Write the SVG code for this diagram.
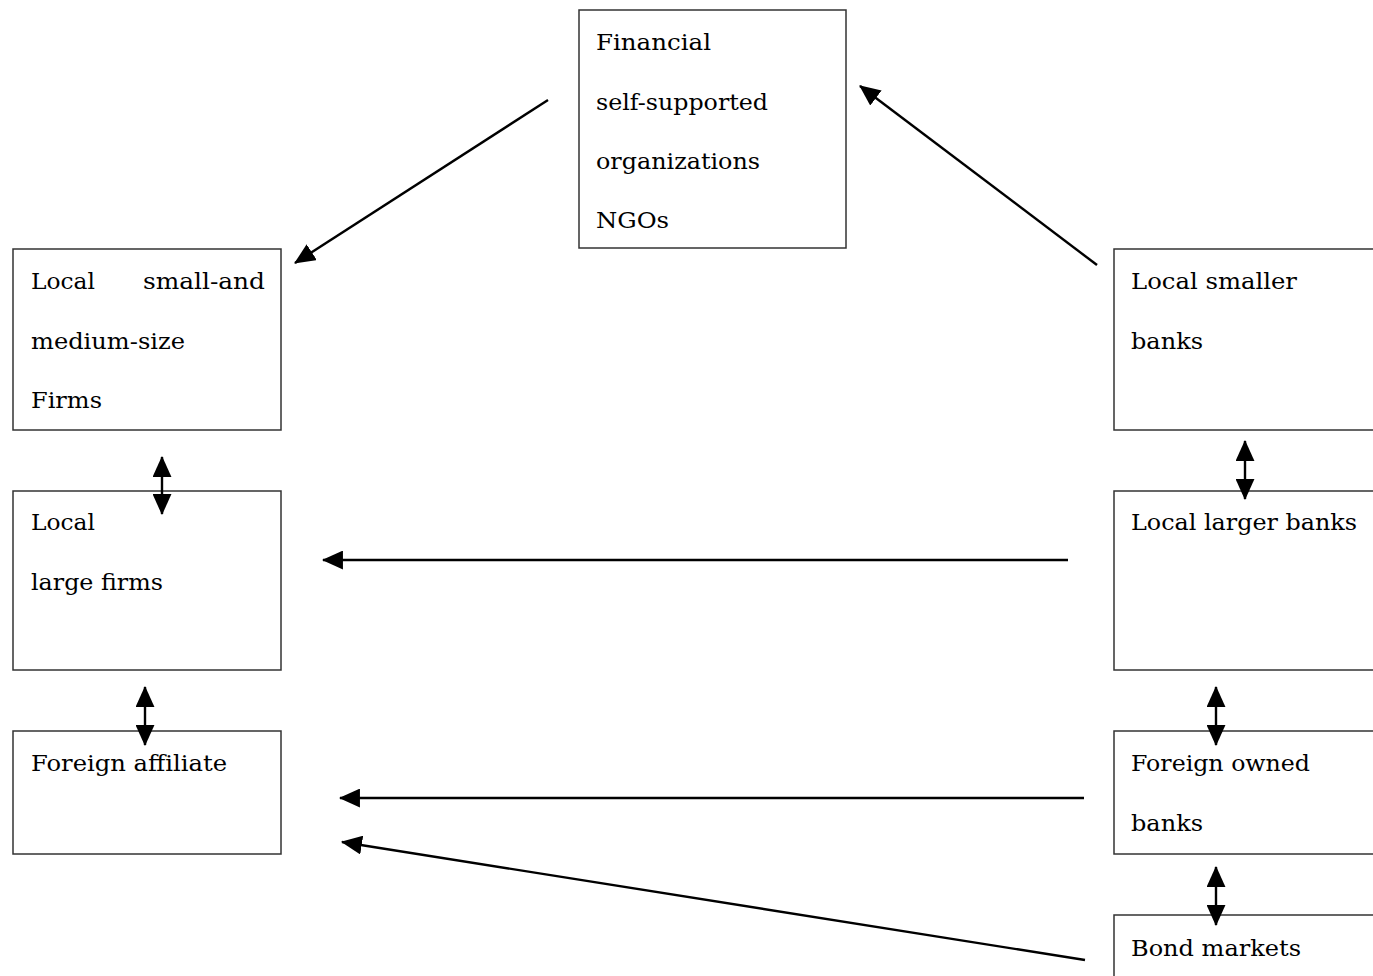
<svg xmlns="http://www.w3.org/2000/svg" width="1373" height="976" viewBox="0 0 1373 976">
<style>
.box{fill:#fff;stroke:#333;stroke-width:1.5}
.t{font-family:"DejaVu Serif","Liberation Serif",serif;font-size:23px;fill:#000}
.c{stroke:#000;stroke-width:2.4;fill:none}
</style>
<defs>
<marker id="ah" viewBox="0 0 20 18" refX="19" refY="9" markerWidth="21" markerHeight="19" markerUnits="userSpaceOnUse" orient="auto-start-reverse">
<path d="M0,0 L20,9 L0,18 Z" fill="#000"/>
</marker>
</defs>
<rect width="1373" height="976" fill="#fff"/>
<g id="financial">
<rect class="box" x="579" y="10" width="267" height="238"/>
<text class="t" x="596" y="50" textLength="115" lengthAdjust="spacingAndGlyphs">Financial</text>
<text class="t" x="596" y="110" textLength="172" lengthAdjust="spacingAndGlyphs">self-supported</text>
<text class="t" x="596" y="169" textLength="164" lengthAdjust="spacingAndGlyphs">organizations</text>
<text class="t" x="596" y="228" textLength="73" lengthAdjust="spacingAndGlyphs">NGOs</text>
</g>
<g id="local-sme">
<rect class="box" x="13" y="249" width="268" height="181"/>
<text class="t" x="31" y="289" textLength="64" lengthAdjust="spacingAndGlyphs">Local</text>
<text class="t" x="143" y="289" textLength="122" lengthAdjust="spacingAndGlyphs">small-and</text>
<text class="t" x="31" y="349" textLength="154" lengthAdjust="spacingAndGlyphs">medium-size</text>
<text class="t" x="31" y="408" textLength="71" lengthAdjust="spacingAndGlyphs">Firms</text>
</g>
<g id="local-large-firms">
<rect class="box" x="13" y="491" width="268" height="179"/>
<text class="t" x="31" y="530" textLength="64" lengthAdjust="spacingAndGlyphs">Local</text>
<text class="t" x="31" y="590" textLength="132" lengthAdjust="spacingAndGlyphs">large firms</text>
</g>
<g id="foreign-affiliate">
<rect class="box" x="13" y="731" width="268" height="123"/>
<text class="t" x="31" y="771" textLength="196" lengthAdjust="spacingAndGlyphs">Foreign affiliate</text>
</g>
<g id="local-smaller-banks">
<rect class="box" x="1114" y="249" width="270" height="181"/>
<text class="t" x="1131" y="289" textLength="166" lengthAdjust="spacingAndGlyphs">Local smaller</text>
<text class="t" x="1131" y="349" textLength="72" lengthAdjust="spacingAndGlyphs">banks</text>
</g>
<g id="local-larger-banks">
<rect class="box" x="1114" y="491" width="270" height="179"/>
<text class="t" x="1131" y="530" textLength="226" lengthAdjust="spacingAndGlyphs">Local larger banks</text>
</g>
<g id="foreign-owned-banks">
<rect class="box" x="1114" y="731" width="270" height="123"/>
<text class="t" x="1131" y="771" textLength="179" lengthAdjust="spacingAndGlyphs">Foreign owned</text>
<text class="t" x="1131" y="831" textLength="72" lengthAdjust="spacingAndGlyphs">banks</text>
</g>
<g id="bond-markets">
<rect class="box" x="1114" y="915" width="270" height="80"/>
<text class="t" x="1131" y="956" textLength="170" lengthAdjust="spacingAndGlyphs">Bond markets</text>
</g>
<g id="connectors">
<line class="c" x1="548" y1="100" x2="295" y2="263" marker-end="url(#ah)"/>
<line class="c" x1="1097" y1="265" x2="860" y2="86" marker-end="url(#ah)"/>
<line class="c" x1="162" y1="457" x2="162" y2="514" marker-start="url(#ah)" marker-end="url(#ah)"/>
<line class="c" x1="145" y1="687" x2="145" y2="745" marker-start="url(#ah)" marker-end="url(#ah)"/>
<line class="c" x1="1245" y1="441" x2="1245" y2="499" marker-start="url(#ah)" marker-end="url(#ah)"/>
<line class="c" x1="1216" y1="687" x2="1216" y2="745" marker-start="url(#ah)" marker-end="url(#ah)"/>
<line class="c" x1="1216" y1="867" x2="1216" y2="925" marker-start="url(#ah)" marker-end="url(#ah)"/>
<line class="c" x1="1068" y1="560" x2="323" y2="560" marker-end="url(#ah)"/>
<line class="c" x1="1084" y1="798" x2="340" y2="798" marker-end="url(#ah)"/>
<line class="c" x1="1085" y1="960" x2="342" y2="842" marker-end="url(#ah)"/>
</g>
</svg>
